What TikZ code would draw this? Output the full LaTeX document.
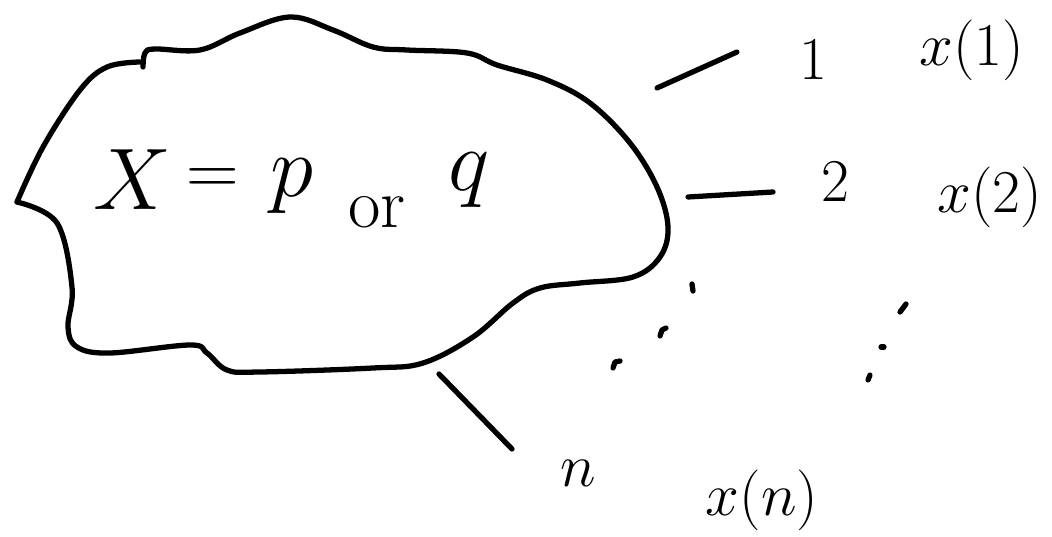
\documentclass[tikz,border=0pt]{standalone}
\usepackage{amsmath}
\usepackage{tikz}
\usetikzlibrary{positioning}

\begin{document}
\begin{tikzpicture}[
    x=0.01cm, y=-0.01cm,
    sketch/.style={line width=1.5pt, line cap=round, line join=round},
    big/.style={inner sep=0pt, font=\fontsize{27}{30}\selectfont},
    lbl/.style={inner sep=0pt, font=\fontsize{17}{20}\selectfont}
  ]
    \useasboundingbox (0,0) rectangle (1052,537);
    % Blob outline
    \draw[sketch] plot[smooth, tension=0.6] coordinates {
      (140,62) (107,67) (80,90) (43,147) (17,202)};
    \draw[sketch] plot[smooth, tension=0.6] coordinates {
      (17,202) (57,223) (72,287) (68,327) (77,347) (110,353) (190,345)
      (207,353) (227,370) (260,372) (373,368) (423,363) (473,337)
      (513,303) (540,288) (580,283) (633,277) (660,257) (668,227)
      (657,187) (630,143) (590,103) (547,80) (497,65) (467,53) (407,50)
      (373,47) (333,30) (290,17) (240,33) (200,50) (155,49) (145,53)
      (143,67)};
    % Text inside
    \node[big, font=\fontsize{23}{26}\selectfont] (bx) at (132,180) {$X$};
    \node[big, font=\fontsize{22}{26}\selectfont] (beq) at (213,182) {$=$};
    \node[big] (bp) at (292,186) {$p$};
    \node[lbl, font=\fontsize{20}{22}\selectfont] (bor) at (377,212) {or};
    \node[big] (bq) at (469,180) {$q$};
    % Outputs
    \node[lbl] (n1) at (813,60) {$1$};
    \node[lbl] (x1) at (972,50) {$x(1)$};
    \node[lbl] (n2) at (835,182) {$2$};
    \node[lbl] (x2) at (990,197) {$x(2)$};
    \node[lbl, font=\fontsize{19}{22}\selectfont] (nn) at (578,473) {$n$};
    \node[lbl] (xn) at (762,500) {$x(n)$};
    % Strokes from blob
    \coordinate (s1a) at (657,88);
    \coordinate (s1b) at (737,52);
    \coordinate (s2a) at (688,197);
    \coordinate (s2b) at (773,192);
    \coordinate (sna) at (439,374);
    \coordinate (snb) at (512,449);
    \draw[sketch] (s1a) -- (s1b);
    \draw[sketch] (s2a) -- (s2b);
    \draw[sketch] (sna) -- (snb);
    % Dots
    \draw[sketch] (692,284) -- (693,291);
    \draw[sketch] (660,336) -- (662,330) -- (666,328);
    \draw[sketch] (613,368) -- (615,362) -- (620,361);
    \draw[sketch] (900,312) -- (906,304);
    \draw[sketch] (881,347) -- (884,347);
    \draw[sketch] (868,380) -- (870,375);
  \end{tikzpicture}
\end{document}
